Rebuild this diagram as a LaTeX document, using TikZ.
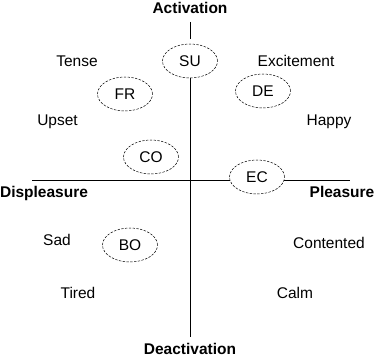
\documentclass[tikz,border=0pt]{standalone}
\usepackage{fontspec}
\setmainfont{Liberation Sans}
\usetikzlibrary{backgrounds,shapes.geometric}
\begin{document}
\begin{tikzpicture}[x=1pt,y=-1pt,
  lbl/.style={anchor=base,inner sep=0pt,font=\fontsize{15.5}{18}\selectfont},
  axlbl/.style={anchor=base,inner sep=0pt,font=\fontsize{15.5}{18}\selectfont\bfseries},
  emo/.style={ellipse,draw,fill=white,line width=0.5pt,dash pattern=on 2.4pt off 1.4pt,
    minimum width=55pt,minimum height=34pt,inner sep=0pt,font=\fontsize{15.5}{18}\selectfont},
  axis/.style={line width=0.8pt,black}]
\useasboundingbox (0,0) rectangle (376,358);
% axis labels
\node[axlbl] (act) at (190,14) {Activation};
\node[axlbl] (deact) at (190,355) {Deactivation};
\node[axlbl] (displ) at (44,198) {Displeasure};
\node[axlbl] (pleas) at (342,198) {Pleasure};
% quadrant words
\node[lbl] (tense) at (77,67) {Tense};
\node[lbl] (excit) at (296,67) {Excitement};
\node[lbl] (upset) at (57.5,126) {Upset};
\node[lbl] (happy) at (329,126) {Happy};
\node[lbl] (sad) at (57,246) {Sad};
\node[lbl] (cont) at (329,249) {Contented};
\node[lbl] (tired) at (78,299) {Tired};
\node[lbl] (calm) at (295,299) {Calm};
% ellipses
\node[emo] (su) at (190,61) {SU};
\node[emo] (fr) at (125,94) {FR};
\node[emo] (de) at (263,91) {DE};
\node[emo] (co) at (151,157) {CO};
\node[emo] (ec) at (257,177) {EC};
\node[emo] (bo) at (130,245) {BO};
% axes
\coordinate (vtop) at (190,22);
\coordinate (vbot) at (190,337);
\coordinate (hl) at (32,180);
\coordinate (hr) at (350,180);
\begin{scope}[on background layer]
\draw[axis,shorten >=5pt] (vtop) -- (su);
\draw[axis] (su) -- (vbot);
\draw[axis] (hl) -- (hr);
\end{scope}
\end{tikzpicture}
\end{document}
